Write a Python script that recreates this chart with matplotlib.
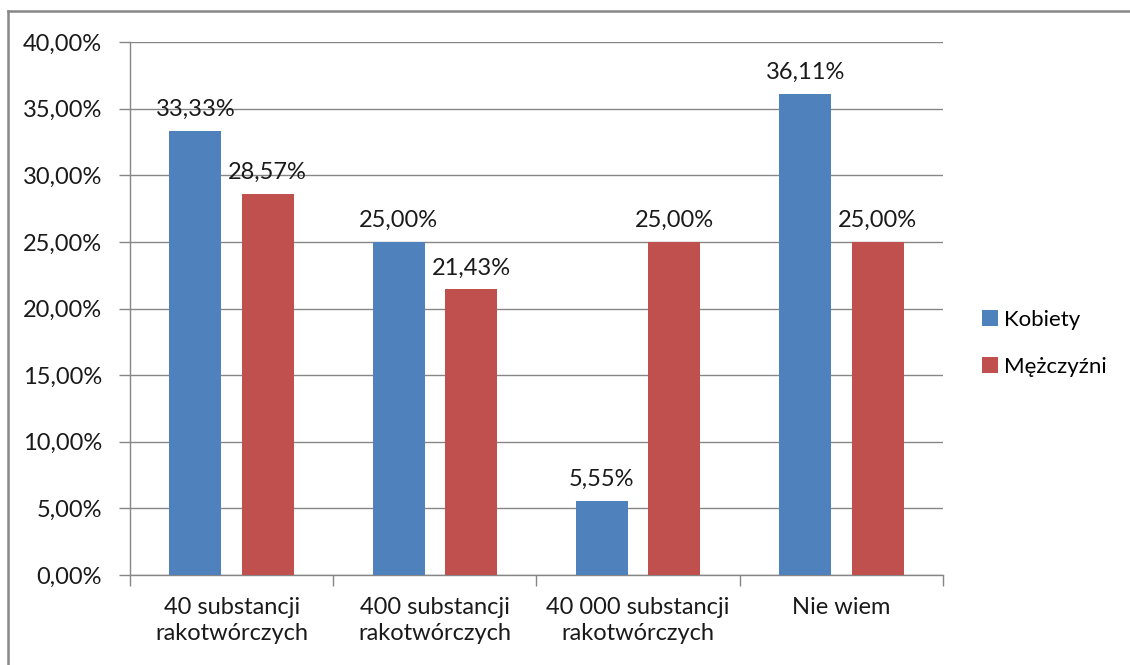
import numpy as np
import matplotlib.pyplot as plt
from matplotlib.lines import Line2D

plt.rcParams['font.family'] = ['Lato', 'DejaVu Sans']

categories = ['40 substancji\nrakotwórczych', '400 substancji\nrakotwórczych',
              '40 000 substancji\nrakotwórczych', 'Nie wiem']
kobiety = [33.33, 25.00, 5.55, 36.11]
mezczyzni = [28.57, 21.43, 25.00, 25.00]
series_names = ['Kobiety', 'Mężczyźni']
colors = ['#4f81bd', '#c0504d']

fs = 17
fig = plt.figure(figsize=(11.3, 6.65), dpi=100)
ax = fig.add_axes([0.115, 0.1353, 0.7195, 0.8015])

x = np.arange(len(categories))
w = 0.256
off = 0.178
for vals, dx, col, name in [(kobiety, -off, colors[0], series_names[0]),
                            (mezczyzni, off, colors[1], series_names[1])]:
    bars = ax.bar(x + dx, vals, width=w, color=col, label=name, zorder=3)
    for b, v in zip(bars, vals):
        ax.annotate(f'{v:.2f}%'.replace('.', ','),
                    (b.get_x() + b.get_width() / 2, v),
                    xytext=(0, 8), textcoords='offset points',
                    ha='center', va='bottom', fontsize=fs, color='#1a1a1a')

ax.set_xlim(-0.5, 3.5)
ax.set_ylim(0, 40)
ax.set_yticks(np.arange(0, 41, 5))
ax.set_yticklabels([f'{v:.2f}%'.replace('.', ',') for v in np.arange(0, 41, 5)])
ax.set_xticks(x)
ax.set_xticklabels(categories, linespacing=1.3)
ax.set_xticks(np.arange(-0.5, 4, 1), minor=True)
ax.tick_params(axis='x', which='major', length=0, pad=16, labelsize=fs,
               labelcolor='#1a1a1a')
ax.tick_params(axis='x', which='minor', length=8, color='#868686', width=1)
ax.tick_params(axis='y', length=8, color='#868686', width=1, pad=12,
               labelsize=fs, labelcolor='#1a1a1a')
ax.grid(axis='y', color='#868686', linewidth=1, zorder=0)
ax.set_axisbelow(True)
for side in ['top', 'right']:
    ax.spines[side].set_visible(False)
for side in ['left', 'bottom']:
    ax.spines[side].set_color('#868686')
    ax.spines[side].set_linewidth(1)

ax.legend(loc='center left', bbox_to_anchor=(1.048, 0.435), frameon=False,
          fontsize=16, handlelength=0.7, handleheight=0.7, labelspacing=1.2,
          handletextpad=0.3, borderpad=0, borderaxespad=0)

# chart frame (only left and top visible in the crop)
fig.add_artist(Line2D([0.0075, 0.0075], [-0.1, 0.9835], color='#888888',
                      linewidth=1.8, transform=fig.transFigure))
fig.add_artist(Line2D([0.0075, 1.1], [0.9835, 0.9835], color='#888888',
                      linewidth=1.8, transform=fig.transFigure))

plt.savefig('out.png', dpi=100)
